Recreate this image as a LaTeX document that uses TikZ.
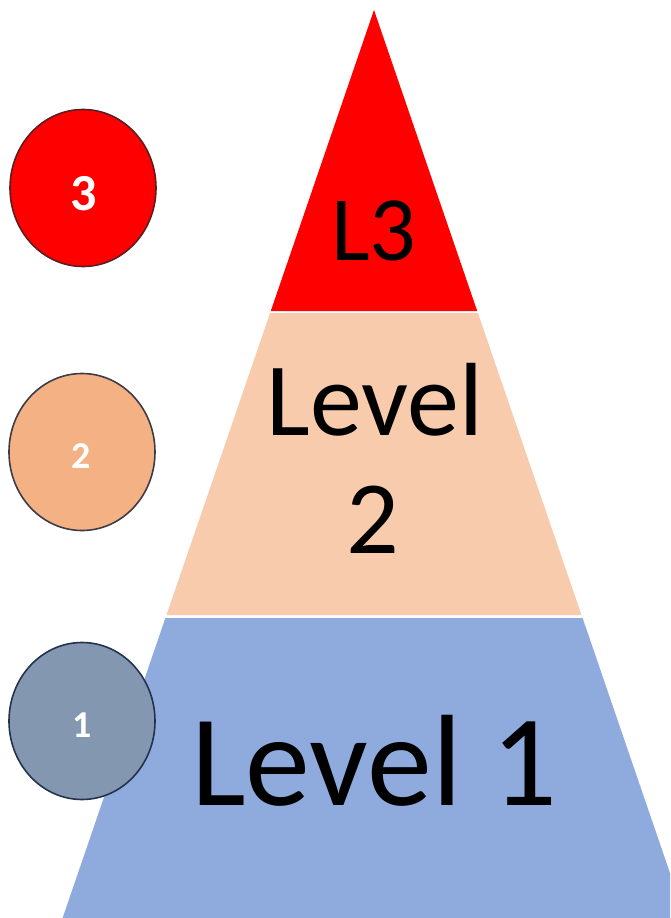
\documentclass[tikz,border=0pt]{standalone}
\usepackage{fontspec}
\setmainfont{Carlito}
\usetikzlibrary{shapes.geometric}

\definecolor{tierred}{HTML}{FF0000}
\definecolor{tierpeach}{HTML}{F8CBAD}
\definecolor{tierblue}{HTML}{8FAADC}
\definecolor{badgeorange}{HTML}{F4B183}
\definecolor{badgeslate}{HTML}{8497B0}
\definecolor{rimred}{HTML}{5C1E22}
\definecolor{rimgray}{HTML}{3C3C48}
\definecolor{rimnavy}{HTML}{23324F}

\tikzset{
  badge/.style={ellipse, minimum width=146pt, minimum height=157pt,
                inner sep=0pt, line width=1.6pt},
  badgenum/.style={text=white, font=\bfseries, anchor=base},
  tiertext/.style={text=black, anchor=base, inner sep=0pt, align=center}
}

\begin{document}
\begin{tikzpicture}[x=1pt, y=-1pt]
  \useasboundingbox (0,0) rectangle (670,918);
  \fill[white] (0,0) rectangle (670,918);
  \clip (0,0) rectangle (670,918);

  % pyramid tiers (apex at 374,10; half-width grows 0.343 per unit)
  \fill[tierred]   (374,10) -- (477.2,311) -- (270.8,311) -- cycle;
  \fill[tierpeach] (270.1,313) -- (477.9,313) -- (581.5,615) -- (166.5,615) -- cycle;
  \fill[tierblue]  (165.4,618) -- (582.6,618) -- (685.4,918) -- (62.6,918) -- cycle;

  % tier labels
  \node[tiertext, font=\fontsize{92pt}{92pt}\selectfont] (l3) at (374,260) {L3};
  \node[tiertext, font=\fontsize{104pt}{104pt}\selectfont] (lv2a) at (375,435) {Level};
  \node[tiertext, font=\fontsize{104pt}{104pt}\selectfont] (lv2b) at (373,553) {2};
  \node[tiertext, font=\fontsize{130pt}{130pt}\selectfont] (lv1) at (374,805) {Level 1};

  % numbered badges
  \node[badge, fill=tierred, draw=rimred] (b3) at (83,188) {};
  \node[badge, fill=badgeorange, draw=rimgray] (b2) at (82,452) {};
  \node[badge, fill=badgeslate, draw=rimnavy] (b1) at (82,721) {};

  \node[badgenum, font=\bfseries\fontsize{52pt}{52pt}\selectfont] (n3) at (84,210) {3};
  \node[badgenum, font=\bfseries\fontsize{38pt}{38pt}\selectfont] (n2) at (81,468) {2};
  \node[badgenum, font=\bfseries\fontsize{38pt}{38pt}\selectfont] (n1) at (82,737) {1};
\end{tikzpicture}
\end{document}
